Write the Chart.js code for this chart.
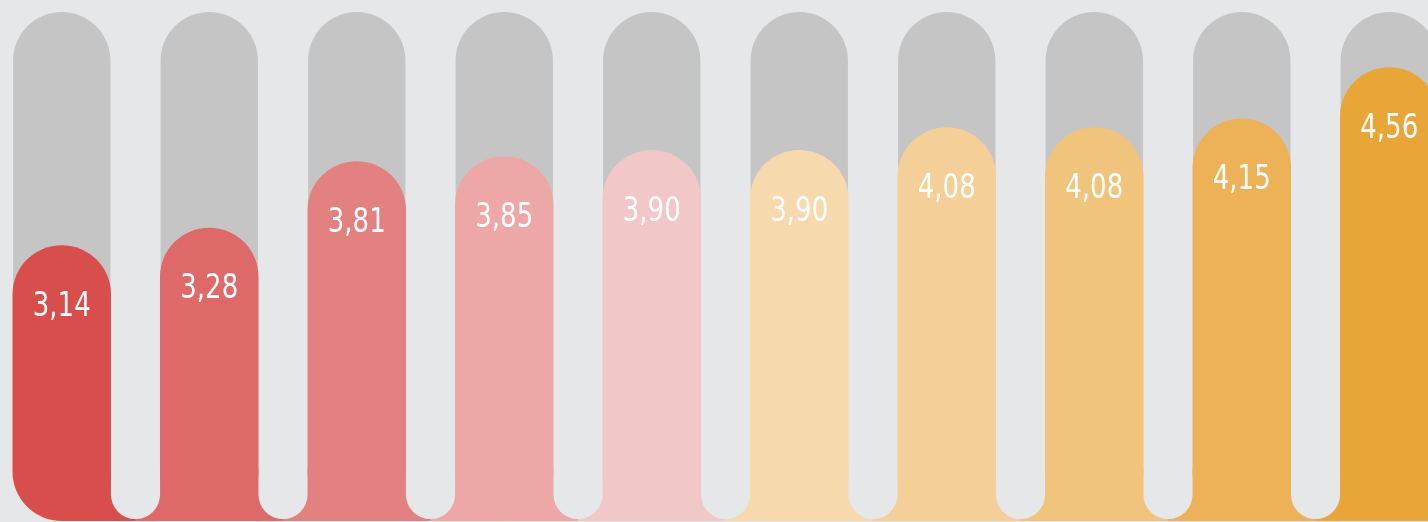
<!DOCTYPE html>
<html>
<head>
<meta charset="utf-8">
<script src="https://cdn.jsdelivr.net/npm/chart.js@4"></script>
<style>
html, body { margin: 0; padding: 0; width: 1428px; height: 522px; overflow: hidden; background: #e6e7e8; }
#chart { position: absolute; left: -12px; top: 0; }
</style>
</head>
<body>
<canvas id="chart" width="1475" height="522"></canvas>
<script>
const categories = ['1', '2', '3', '4', '5', '6', '7', '8', '9', '10'];
const scores = [3.14, 3.28, 3.81, 3.85, 3.90, 3.90, 4.08, 4.08, 4.15, 4.56];
const barColors = ['#d84e4d', '#de6969', '#e38181', '#eca7a6', '#f2c7c7',
                   '#f7d9ae', '#f4cf97', '#f0c47d', '#edb157', '#e8a638'];
const scaleMin = 0.94;
const scaleMax = 5;
const trackLow = 2;      // grey track only needs to show above the coloured bars
const baseLevel = 1.36;  // height of the joined strip at the bottom
const gapBottom = 0.955;
const trackColor = '#c5c5c5';
const pageColor = '#e6e7e8';

// half-band axis for the joined bottom strip (the first half is left open)
const halfBands = categories.flatMap(c => [c + 'a', c + 'b']);
const baseData = halfBands.map((h, j) => j === 0 ? null : baseLevel);
const baseColors = halfBands.map((h, j) => barColors[Math.floor(j / 2)]);

// boundary axis for the rounded gaps between bars
const bounds = ['b0'].concat(categories);
const gapData = bounds.map((b, k) => (k === 0 || k === bounds.length - 1) ? null : [gapBottom, scaleMax]);

const valueLabels = {
    id: 'valueLabels',
    afterDatasetsDraw(chart) {
        const ctx = chart.ctx;
        const meta = chart.getDatasetMeta(0);
        ctx.save();
        ctx.fillStyle = '#ffffff';
        ctx.font = '34px "DejaVu Sans Condensed", "Liberation Sans Narrow", sans-serif';
        ctx.textAlign = 'center';
        ctx.textBaseline = 'middle';
        meta.data.forEach(function(bar, i) {
            ctx.save();
            ctx.translate(bar.x, bar.y + 62);
            ctx.scale(0.85, 1);
            ctx.fillText(scores[i].toFixed(2).replace('.', ','), 0, 0);
            ctx.restore();
        });
        ctx.restore();
    }
};

const ctx = document.getElementById('chart').getContext('2d');
new Chart(ctx, {
    type: 'bar',
    data: {
        labels: categories,
        datasets: [{
            label: 'score',
            data: scores,
            base: scaleMin,
            backgroundColor: barColors,
            borderRadius: 100,
            borderSkipped: false,
            grouped: false,
            categoryPercentage: 1,
            barPercentage: 0.668,
            order: 0
        }, {
            label: 'track',
            data: categories.map(() => [trackLow, scaleMax]),
            backgroundColor: trackColor,
            borderRadius: { topLeft: 100, topRight: 100, bottomLeft: 0, bottomRight: 0 },
            borderSkipped: false,
            grouped: false,
            categoryPercentage: 1,
            barPercentage: 0.66,
            order: 1
        }, {
            label: 'gaps',
            data: gapData,
            xAxisID: 'xg',
            backgroundColor: pageColor,
            borderRadius: { topLeft: 0, topRight: 0, bottomLeft: 100, bottomRight: 100 },
            borderSkipped: false,
            grouped: false,
            categoryPercentage: 1,
            barPercentage: 0.333,
            order: 2
        }, {
            label: 'base',
            data: baseData,
            base: scaleMin,
            xAxisID: 'xh',
            backgroundColor: baseColors,
            borderRadius: 0,
            grouped: false,
            categoryPercentage: 1,
            barPercentage: 1.01,
            order: 3
        }]
    },
    options: {
        responsive: false,
        animation: false,
        layout: { padding: { top: 12, bottom: 1, left: 0, right: 0 } },
        plugins: {
            legend: { display: false },
            tooltip: { enabled: false }
        },
        scales: {
            x: { display: false, offset: true },
            xh: { type: 'category', labels: halfBands, display: false, offset: true },
            xg: { type: 'category', labels: bounds, display: false, offset: false },
            y: { display: false, min: scaleMin, max: scaleMax, beginAtZero: false }
        }
    },
    plugins: [valueLabels]
});
</script>
</body>
</html>
